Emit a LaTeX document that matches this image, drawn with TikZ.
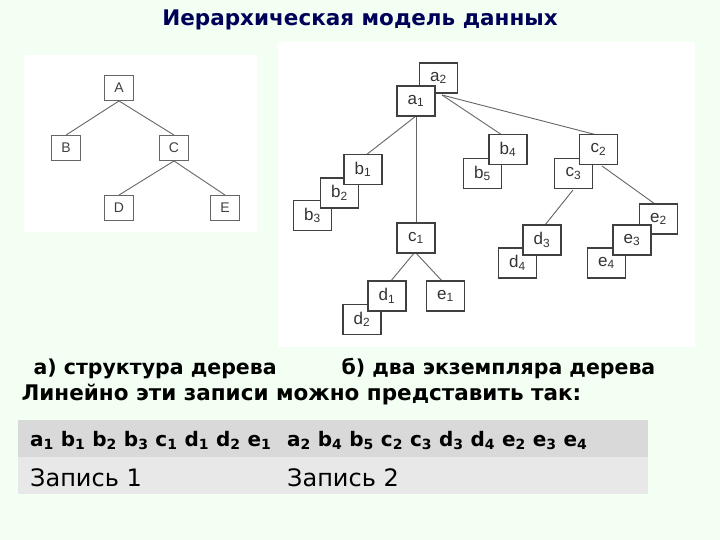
\documentclass[tikz,border=0pt]{standalone}
\usepackage{fontspec}
\setmainfont{Liberation Sans}
\newfontfamily\dvs{DejaVu Sans}
\begin{document}
\begin{tikzpicture}[x=1pt,y=-1pt,
 lb/.style={draw=black!75,line width=1.3pt,fill=white,minimum width=38pt,minimum height=30pt,inner sep=0pt,font=\fontsize{17}{17}\selectfont,text=black!80},
 sb/.style={draw=black!60,line width=0.9pt,fill=white,minimum width=29pt,minimum height=25pt,inner sep=0pt,font=\fontsize{14}{14}\selectfont,text=black!75},
 ln/.style={draw=black!60,line width=0.9pt},
 hd/.style={font=\dvs\bfseries\fontsize{20.5}{20}\selectfont,anchor=base west}]
\fill[green!5] (0,0) rectangle (720,540);
\useasboundingbox (0,0) rectangle (720,540);
\node[font=\dvs\bfseries\fontsize{21.5}{22}\selectfont,text=blue!35!black] (t) at (360,20) {Иерархическая модель данных};
% left panel
\fill[white] (24,55) rectangle (257,232);
\node[sb] (A) at (119,88) {A};
\node[sb] (B) at (66,148) {B};
\node[sb] (C) at (174,148) {C};
\node[sb] (D) at (119,208) {D};
\node[sb] (E) at (225,208) {E};
\draw[ln] (A.south) -- (B.north) (A.south) -- (C.north) (C.south) -- (D.north) (C.south) -- (E.north);
% right panel
\fill[white] (278,42) rectangle (695,347);
\coordinate (a1b) at (416,116);
\coordinate (a1r) at (442,95);
\coordinate (c1b) at (415,252);
\draw[ln] (a1b) -- (366,155) coordinate (b1t);
\draw[ln] (a1b) -- (416,224) coordinate (c1t);
\draw[ln] (a1r) -- (502,135) coordinate (b4t);
\draw[ln] (a1r) -- (597,135) coordinate (c2t);
\draw[ln] (c1b) -- (390,282) coordinate (d1t);
\draw[ln] (c1b) -- (443,282) coordinate (e1t);
\draw[ln] (573,190) coordinate (c3b) -- (545,225) coordinate (d3t);
\draw[ln] (602,166) coordinate (c2b) -- (655,204) coordinate (e2t);
\node[lb] (a2) at (438.5,78) {a\textsubscript{2}};
\node[lb] (a1) at (416,101) {a\textsubscript{1}};
\node[lb] (b3) at (312.5,215.5) {b\textsubscript{3}};
\node[lb] (b2) at (339.5,193) {b\textsubscript{2}};
\node[lb] (b1) at (363,169.5) {b\textsubscript{1}};
\node[lb] (c1) at (416,238) {c\textsubscript{1}};
\node[lb] (d2) at (362,319.5) {d\textsubscript{2}};
\node[lb] (d1) at (387,296) {d\textsubscript{1}};
\node[lb] (e1) at (445.5,296) {e\textsubscript{1}};
\node[lb] (b5) at (482.5,173.5) {b\textsubscript{5}};
\node[lb] (b4) at (508,149.5) {b\textsubscript{4}};
\node[lb] (c3) at (573.5,173.5) {c\textsubscript{3}};
\node[lb] (c2) at (598.5,149.5) {c\textsubscript{2}};
\node[lb] (d4) at (517.5,263) {d\textsubscript{4}};
\node[lb] (d3) at (542,240) {d\textsubscript{3}};
\node[lb] (e2) at (658.5,219) {e\textsubscript{2}};
\node[lb] (e4) at (606.5,263) {e\textsubscript{4}};
\node[lb] (e3) at (632,240) {e\textsubscript{3}};
% captions
\node[hd] (ca) at (30,374) {а) структура дерева};
\node[hd] (cb) at (338,374) {б) два экземпляра дерева};
\node[hd,font=\dvs\bfseries\fontsize{21.5}{20}\selectfont] (cl) at (18,400) {Линейно эти записи можно представить так:};
% table
\fill[black!15] (18,420) rectangle (648,457);
\fill[black!9] (18,457) rectangle (648,494);
\node[font=\dvs\bfseries\fontsize{20}{20}\selectfont,anchor=base west,inner sep=0pt] (r1) at (30,446) {a\textsubscript{1} b\textsubscript{1} b\textsubscript{2} b\textsubscript{3} c\textsubscript{1} d\textsubscript{1} d\textsubscript{2} e\textsubscript{1}};
\node[font=\dvs\bfseries\fontsize{20}{20}\selectfont,anchor=base west,inner sep=0pt] (r2) at (287,446) {a\textsubscript{2} b\textsubscript{4} b\textsubscript{5} c\textsubscript{2} c\textsubscript{3} d\textsubscript{3} d\textsubscript{4} e\textsubscript{2} e\textsubscript{3} e\textsubscript{4}};
\node[font=\dvs\fontsize{24}{24}\selectfont,anchor=base west,inner sep=0pt] (z1) at (30,486) {Запись 1};
\node[font=\dvs\fontsize{24}{24}\selectfont,anchor=base west,inner sep=0pt] (z2) at (287,486) {Запись 2};
\end{tikzpicture}
\end{document}
